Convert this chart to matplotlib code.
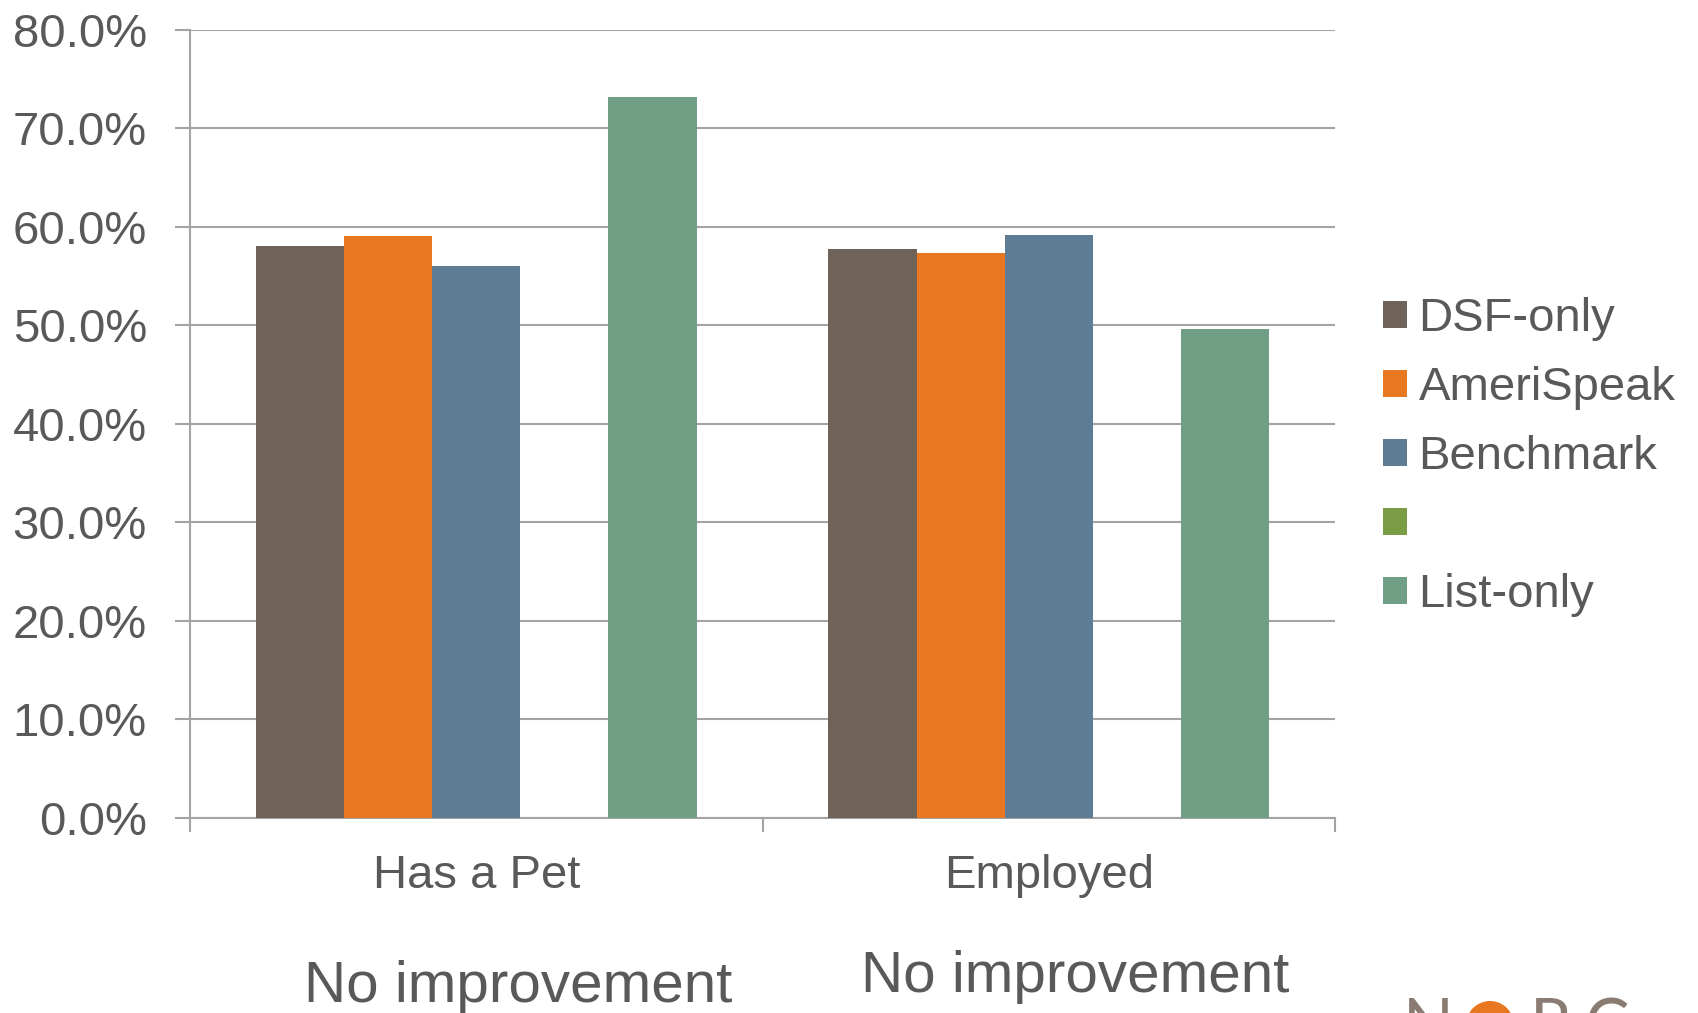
import numpy as np
import matplotlib
matplotlib.use('Agg')
from matplotlib import pyplot as plt
from matplotlib.patches import Patch, Circle

## Data ##
categories = ['Has a Pet', 'Employed']
series = ['DSF-only', 'AmeriSpeak', 'Benchmark', ' ', 'List-only']
dsf_only = [58.1, 57.8]
amerispeak = [59.1, 57.3]
benchmark = [56.0, 59.2]
unnamed = [None, None]
list_only = [73.2, 49.6]
notes = ['No improvement', 'No improvement']

colors = ['#6E6259', '#E87722', '#5E7D95', '#7A9C45', '#709F86']
text_color = '#58595B'
grid_color = '#A3A3A3'

plt.rcParams['font.family'] = ['Liberation Sans', 'DejaVu Sans']

## Plotting ##
fig = plt.figure(figsize=(16.98, 10.13), dpi=100)
ax = fig.add_axes([190 / 1698, 1 - 817.5 / 1013, (1335 - 190) / 1698, (817.5 - 30) / 1013])

x = np.arange(len(categories))
width = 0.154
values = [dsf_only, amerispeak, benchmark, unnamed, list_only]
for i, (vals, col) in enumerate(zip(values, colors)):
    offset = (i - 2) * width
    for xi, v in zip(x, vals):
        if v is not None:
            ax.bar(xi + offset, v / 100, width, color=col, zorder=3)

ax.set_xlim(-0.5, 1.5)
ax.set_ylim(0, 0.8)
ax.set_yticks(np.arange(0, 0.81, 0.1))
ax.set_yticklabels([f'{t * 100:.1f}%' for t in np.arange(0, 0.81, 0.1)])
ax.yaxis.grid(True, color=grid_color, linewidth=1.5, zorder=0)
ax.set_axisbelow(True)

ax.set_xticks(x)
ax.set_xticklabels(categories)
ax.set_xticks([-0.5, 0.5, 1.5], minor=True)
ax.tick_params(axis='x', which='major', length=0, pad=26, labelsize=34, labelcolor=text_color)
ax.tick_params(axis='x', which='minor', length=10, width=1.5, color=grid_color)
ax.tick_params(axis='y', length=11, width=1.5, color=grid_color, pad=20,
               labelsize=34, labelcolor=text_color)

for side in ['top', 'right']:
    ax.spines[side].set_visible(False)
for side in ['left', 'bottom']:
    ax.spines[side].set_color(grid_color)
    ax.spines[side].set_linewidth(1.5)

# legend with square swatches, including the unnamed series
handles = [Patch(facecolor=c, edgecolor='none') for c in colors]
fig.legend(handles, series, loc='upper left',
           bbox_to_anchor=(1383 / 1698, 1 - 297 / 1013),
           frameon=False, fontsize=34, labelcolor=text_color,
           handlelength=0.5, handleheight=0.5, handletextpad=0.25,
           labelspacing=0.53, borderpad=0, borderaxespad=0)

# notes under each category
fig.text(518 / 1698, (1013 - 1002) / 1013, notes[0], ha='center', va='baseline',
         fontsize=42, color=text_color)
fig.text(1075 / 1698, (1013 - 992) / 1013, notes[1], ha='center', va='baseline',
         fontsize=42, color=text_color)

# logo peeking in at the bottom edge
logo_color = '#8A7C72'
for letter, lx in [('N', 1403), ('R', 1530), ('C', 1585)]:
    fig.text(lx / 1698, -34 / 1013, letter, ha='left', va='baseline',
             fontsize=48, color=logo_color, family='Lato')
fig.add_artist(Circle((14.90, -0.12), 0.24, transform=fig.dpi_scale_trans,
                      facecolor='#E87722', edgecolor='none'))

fig.savefig('out.png', dpi=100)
